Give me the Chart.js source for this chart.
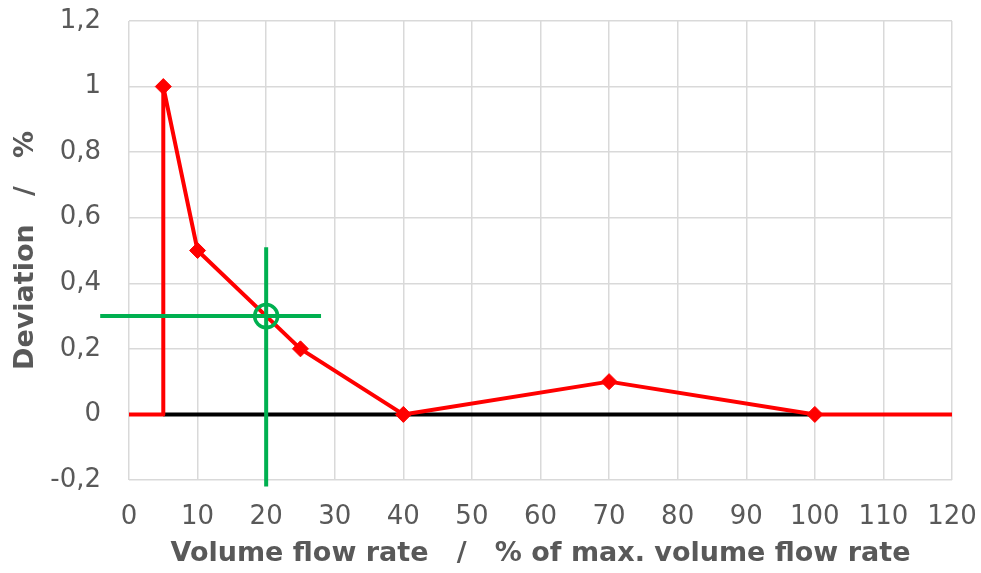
<!DOCTYPE html>
<html>
<head>
<meta charset="utf-8">
<script src="https://cdn.jsdelivr.net/npm/chart.js@4.4.0/dist/chart.umd.min.js"></script>
<style>
  html, body { margin: 0; padding: 0; background: #fff; }
  #wrap { width: 981px; height: 573px; }
</style>
</head>
<body>
<div id="wrap"><canvas id="chartCanvas" width="981" height="573"></canvas></div>
<script>
// deviation curve (x = % of max flow, y = deviation %)
const flowRate = [0, 5, 5, 10, 25, 40, 70, 100, 120];
const deviation = [0, 0, 1, 0.5, 0.2, 0, 0.1, 0, 0];
const markerRadius = [0, 0, 8, 8, 8, 8, 8, 8, 0];

// black zero line
const zeroLineX = [5, 100];
const zeroLineY = [0, 0];

// green operating point with crosshair
const opX = 20;
const opY = 0.3;
const crossHorizX = [-4.2, 28];
const crossVertY = [0.51, -0.22];

const xTicks = { min: 0, max: 120, step: 10 };
const yTicks = { min: -0.2, max: 1.2, step: 0.2 };

const grey = "#595959";
const green = "#00b050";
const fontFamily = "DejaVu Sans";

function pts(xs, ys) {
  return xs.map((x, i) => ({ x, y: ys[i] }));
}

const ctx = document.getElementById("chartCanvas").getContext("2d");

new Chart(ctx, {
  type: "scatter",
  data: {
    datasets: [
      {
        // crosshair horizontal
        data: pts(crossHorizX, [opY, opY]),
        showLine: true,
        borderColor: green,
        borderWidth: 4,
        pointRadius: 0,
        clip: false,
        order: 1
      },
      {
        // crosshair vertical
        data: pts([opX, opX], crossVertY),
        showLine: true,
        borderColor: green,
        borderWidth: 4,
        pointRadius: 0,
        clip: false,
        order: 1
      },
      {
        // circle marker
        data: [{ x: opX, y: opY }],
        pointStyle: "circle",
        pointRadius: 11.5,
        pointBorderWidth: 3.5,
        pointBorderColor: green,
        pointBackgroundColor: "rgba(0,0,0,0)",
        order: 0
      },
      {
        data: pts(flowRate, deviation),
        showLine: true,
        borderColor: "#ff0000",
        borderWidth: 4,
        borderJoinStyle: "round",
        tension: 0,
        pointStyle: "rectRot",
        pointRadius: markerRadius,
        pointBackgroundColor: "#ff0000",
        pointBorderColor: "#ff0000",
        pointBorderWidth: 1,
        clip: false,
        order: 2
      },
      {
        data: pts(zeroLineX, zeroLineY),
        showLine: true,
        borderColor: "#000000",
        borderWidth: 4,
        pointRadius: 0,
        order: 3
      }
    ]
  },
  options: {
    responsive: false,
    animation: false,
    layout: { padding: { left: 0, right: 29, top: 21, bottom: 0 } },
    plugins: {
      legend: { display: false },
      tooltip: { enabled: false }
    },
    scales: {
      x: {
        type: "linear",
        min: xTicks.min,
        max: xTicks.max,
        afterFit: scale => { scale.height = 93; },
        ticks: {
          stepSize: xTicks.step,
          color: grey,
          padding: 0,
          maxRotation: 0,
          font: { family: fontFamily, size: 26 }
        },
        grid: {
          color: "#d9d9d9",
          lineWidth: 1.5,
          drawTicks: true,
          tickLength: 22,
          tickColor: "rgba(0,0,0,0)"
        },
        border: { display: false },
        title: {
          display: true,
          text: "Volume flow rate   /   % of max. volume flow rate",
          color: grey,
          padding: { top: 0, bottom: 3 },
          font: { family: fontFamily, size: 27, weight: "bold" }
        }
      },
      y: {
        type: "linear",
        min: yTicks.min,
        max: yTicks.max,
        afterFit: scale => { scale.width = 129; },
        ticks: {
          stepSize: yTicks.step,
          color: grey,
          padding: 0,
          font: { family: fontFamily, size: 26 },
          callback: v => String(Number(v.toFixed(1))).replace(".", ",")
        },
        grid: {
          color: "#d9d9d9",
          lineWidth: 1.5,
          drawTicks: true,
          tickLength: 28,
          tickColor: "rgba(0,0,0,0)"
        },
        border: { display: false },
        title: {
          display: true,
          text: "Deviation   /   %",
          color: grey,
          padding: { top: 10, bottom: 0 },
          font: { family: fontFamily, size: 27, weight: "bold" }
        }
      }
    }
  }
});
</script>
</body>
</html>
